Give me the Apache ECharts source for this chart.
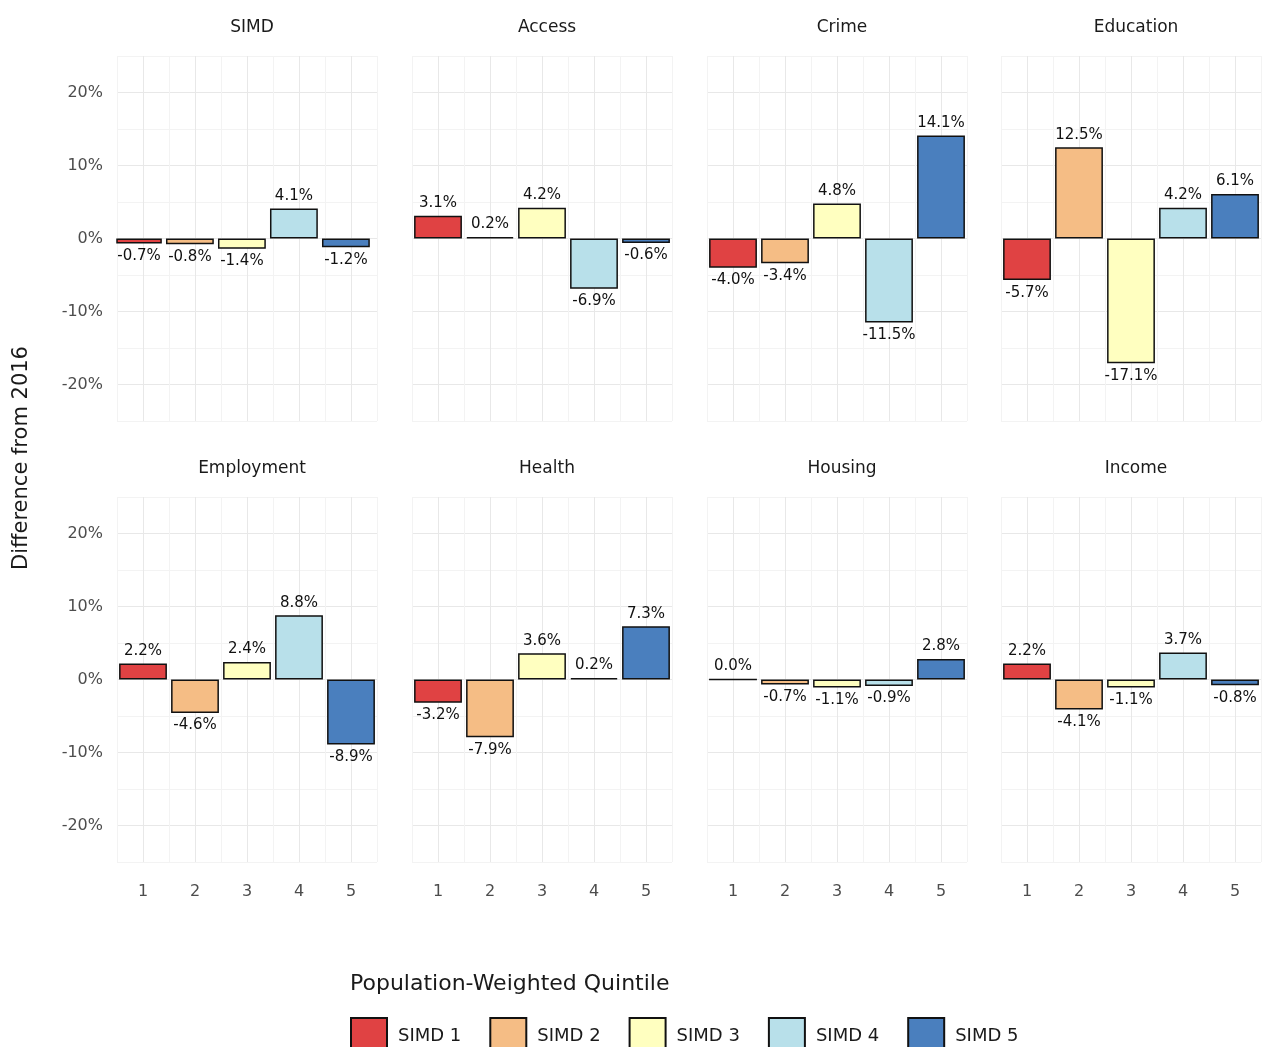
<!DOCTYPE html>
<html><head><meta charset="utf-8">
<script src="https://cdn.jsdelivr.net/npm/echarts@6/dist/echarts.min.js"></script>
<style>html,body{margin:0;padding:0;background:#fff}#main{width:1263px;height:1047px}</style>
</head><body><div id="main"></div>
<script>
var quintiles = ['1', '2', '3', '4', '5'];
var legendNames = ['SIMD 1', 'SIMD 2', 'SIMD 3', 'SIMD 4', 'SIMD 5'];
var colors = ['#e04243', '#f5bd85', '#ffffc0', '#b8e0ea', '#4a7fbe'];
var panels = ['SIMD', 'Access', 'Crime', 'Education', 'Employment', 'Health', 'Housing', 'Income'];
var simd = [-0.7, -0.8, -1.4, 4.1, -1.2];
var access = [3.1, 0.2, 4.2, -6.9, -0.6];
var crime = [-4.0, -3.4, 4.8, -11.5, 14.1];
var education = [-5.7, 12.5, -17.1, 4.2, 6.1];
var employment = [2.2, -4.6, 2.4, 8.8, -8.9];
var health = [-3.2, -7.9, 3.6, 0.2, 7.3];
var housing = [0.0, -0.7, -1.1, -0.9, 2.8];
var income = [2.2, -4.1, -1.1, 3.7, -0.8];
var values = [simd, access, crime, education, employment, health, housing, income];

var lefts = [117, 412, 707, 1001];
var tops = [56, 497];
var W = 260, H = 365;

var grids = [], xAxes = [], yAxes = [], series = [], titles = [];
panels.forEach(function (p, i) {
  var col = i % 4, row = Math.floor(i / 4);
  grids.push({left: lefts[col], top: tops[row], width: W, height: H});
  titles.push({text: p, left: lefts[col] + W / 2, top: tops[row] - 42, textAlign: 'center',
    textStyle: {fontSize: 17, fontWeight: 'normal', color: '#1a1a1a', fontFamily: 'DejaVu Sans'}});
  xAxes.push({type: 'category', gridIndex: i, data: quintiles, boundaryGap: true,
    axisLine: {show: false}, axisTick: {show: false},
    axisLabel: {show: row === 1, fontSize: 16, color: '#4d4d4d', margin: 22, fontFamily: 'DejaVu Sans'},
    splitLine: {show: false}});
  yAxes.push({type: 'value', gridIndex: i, min: -25, max: 25, interval: 5,
    axisLine: {show: false}, axisTick: {show: false},
    axisLabel: {show: col === 0, fontSize: 16, color: '#4d4d4d', margin: 14, fontFamily: 'DejaVu Sans',
      formatter: function (v) { return v % 10 === 0 ? v + '%' : ''; }},
    splitLine: {lineStyle: {color: ['#f3f3f3', '#e8e8e8'], width: 1}}});
  series.push({type: 'bar', xAxisIndex: i, yAxisIndex: i, barWidth: '92%', z: 3,
    data: values[i].map(function (v, k) {
      return {value: v, itemStyle: {color: colors[k], borderColor: '#111', borderWidth: 1.5},
        label: {position: v >= 0 ? 'top' : 'bottom'}};
    }),
    label: {show: true, fontSize: 15, color: '#111', fontFamily: 'DejaVu Sans', distance: 5,
      formatter: function (d) { return d.value.toFixed(1) + '%'; }}});
});
// hidden value x axes for vertical grid (major at quintile centres, minor between)
panels.forEach(function (p, i) {
  xAxes.push({type: 'value', gridIndex: i, min: 0.5, max: 5.5, interval: 0.5, show: true,
    axisLine: {show: false}, axisTick: {show: false}, axisLabel: {show: false},
    splitLine: {show: true, lineStyle: {color: ['#f3f3f3', '#e8e8e8'], width: 1}}});
});
legendNames.forEach(function (n, k) {
  series.push({type: 'bar', name: n, data: [], xAxisIndex: 0, yAxisIndex: 0,
    itemStyle: {color: colors[k], borderColor: '#111', borderWidth: 1.5}});
});

var chart = echarts.init(document.getElementById('main'));
chart.setOption({
  animation: false,
  title: titles,
  grid: grids, xAxis: xAxes, yAxis: yAxes, series: series,
  legend: {data: legendNames, left: 345, top: 1012, itemWidth: 36, itemHeight: 36, itemGap: 28,
    icon: 'rect', textStyle: {fontSize: 18, color: '#1a1a1a', fontFamily: 'DejaVu Sans', padding: [0, 0, 0, 6]}},
  graphic: [
    {type: 'text', left: 350, top: 973, style: {text: 'Population-Weighted Quintile', fontSize: 22, fill: '#1a1a1a', fontFamily: 'DejaVu Sans'}},
    {type: 'text', x: 11, y: 458, rotation: Math.PI / 2,
      style: {text: 'Difference from 2016', fontSize: 21, fill: '#1a1a1a', fontFamily: 'DejaVu Sans', align: 'center', verticalAlign: 'top'}}
  ]
});
</script></body></html>
